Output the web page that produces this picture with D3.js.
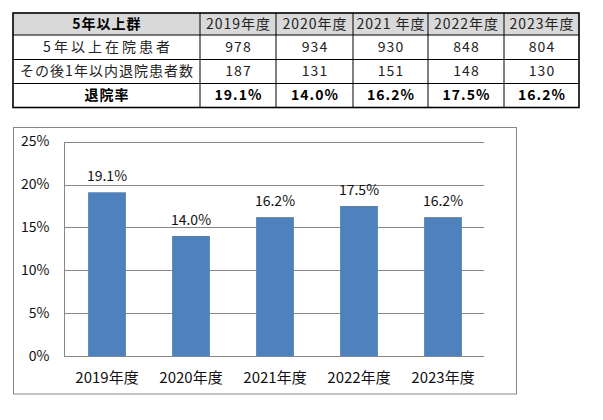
<!DOCTYPE html>
<html><head><meta charset="utf-8">
<script src="https://cdn.jsdelivr.net/npm/d3@7"></script>
<style>
html,body{margin:0;padding:0;background:#fff;}
svg{display:block;}
</style></head>
<body>
<svg id="c" width="603" height="420"></svg>
<script>
// ---- data ----
const tableHeader = "5年以上群";
const years = ["2019年度","2020年度","2021年度","2022年度","2023年度"];
const tableYears = ["2019年度","2020年度","2021 年度","2022年度","2023年度"];
const rowLabels = ["5年以上在院患者","その後1年以内退院患者数","退院率"];
const inpatients = [978, 934, 930, 848, 804];
const discharged = [187, 131, 151, 148, 130];
const rates = [19.1, 14.0, 16.2, 17.5, 16.2];
const yTicks = [0, 5, 10, 15, 20, 25];

const svg = d3.select("#c");
const F = "'Noto Sans CJK JP','Noto Sans',sans-serif";

// ---- table ----
const colX = [13, 200, 276, 353, 428, 504, 579];
const rowY = [13, 35, 59.5, 83.5, 107.5];
const tbl = svg.append("g");
tbl.append("rect").attr("x", colX[0]).attr("y", rowY[0]).attr("width", colX[6]-colX[0]).attr("height", rowY[1]-rowY[0]).attr("fill", "#d9d9d9");
const rows = [
  [tableHeader, ...tableYears],
  [rowLabels[0], ...inpatients.map(String)],
  [rowLabels[1], ...discharged.map(String)],
  [rowLabels[2], ...rates.map(d => d.toFixed(1) + "%")]
];
rows.forEach((r, ri) => {
  r.forEach((txt, ci) => {
    const bold = (ri === 0 && ci === 0) || ri === 3;
    const ls = (ri === 1 && ci === 0) ? 3 : 1;
    tbl.append("text")
      .attr("x", (colX[ci] + colX[ci+1]) / 2 + ls/2)
      .attr("y", (rowY[ri] + rowY[ri+1]) / 2 + 1)
      .attr("text-anchor", "middle")
      .attr("dominant-baseline", "middle")
      .attr("font-family", F)
      .attr("font-size", 14)
      .attr("letter-spacing", ls)
      .attr("font-weight", bold ? "bold" : "normal")
      .attr("fill", bold ? "#000" : "#222")
      .text(txt);
  });
});
rowY.slice(1, -1).forEach(y => {
  tbl.append("line").attr("x1", colX[0]).attr("x2", colX[6]).attr("y1", y).attr("y2", y).attr("stroke", "#000").attr("stroke-width", 1);
});
colX.slice(1, -1).forEach(x => {
  tbl.append("line").attr("x1", x).attr("x2", x).attr("y1", rowY[0]).attr("y2", rowY[4]).attr("stroke", "#000").attr("stroke-width", 1);
});
tbl.append("rect").attr("x", colX[0]).attr("y", rowY[0]).attr("width", colX[6]-colX[0]).attr("height", rowY[4]-rowY[0])
  .attr("fill", "none").attr("stroke", "#000").attr("stroke-width", 1.6);

// ---- chart ----
svg.append("rect").attr("x", 13.5).attr("y", 127.5).attr("width", 503).attr("height", 266.5)
  .attr("fill", "#fff").attr("stroke", "#878787").attr("stroke-width", 1);

const L = 64, R = 484, T = 141.7, B = 356;
const x = d3.scaleBand().domain(years).range([L, R]).padding(0);
const y = d3.scaleLinear().domain([0, 25]).range([B, T]);

const g = svg.append("g");
g.selectAll("line.grid").data(yTicks).join("line")
  .attr("x1", L).attr("x2", R)
  .attr("y1", d => Math.round(y(d)) + 0.5).attr("y2", d => Math.round(y(d)) + 0.5)
  .attr("stroke", "#868686").attr("stroke-width", 1);
g.append("line").attr("x1", L + 0.5).attr("x2", L + 0.5).attr("y1", Math.round(T) + 0.5).attr("y2", Math.round(B) + 0.5)
  .attr("stroke", "#868686");

g.selectAll("text.yt").data(yTicks).join("text")
  .attr("x", 49.5).attr("y", d => y(d) + 1)
  .attr("text-anchor", "end").attr("dominant-baseline", "middle")
  .attr("font-family", F).attr("font-size", 14).attr("fill", "#111")
  .text(d => d + "%");

const bw = x.bandwidth() * 0.45;
g.selectAll("rect.bar").data(rates).join("rect")
  .attr("x", (d, i) => x(years[i]) + x.bandwidth()/2 - bw/2 + 1)
  .attr("y", d => y(d))
  .attr("width", bw)
  .attr("height", d => B - y(d))
  .attr("fill", "#4f81bd");

g.selectAll("text.dl").data(rates).join("text")
  .attr("x", (d, i) => x(years[i]) + x.bandwidth()/2 + 1)
  .attr("y", d => y(d) - 11)
  .attr("text-anchor", "middle")
  .attr("font-family", F).attr("font-size", 14).attr("fill", "#111")
  .text(d => d.toFixed(1) + "%");

g.selectAll("text.xl").data(years).join("text")
  .attr("x", d => x(d) + x.bandwidth()/2 + 1)
  .attr("y", 383)
  .attr("text-anchor", "middle")
  .attr("font-family", F).attr("font-size", 15).attr("fill", "#111")
  .text(d => d);
</script>
</body></html>
